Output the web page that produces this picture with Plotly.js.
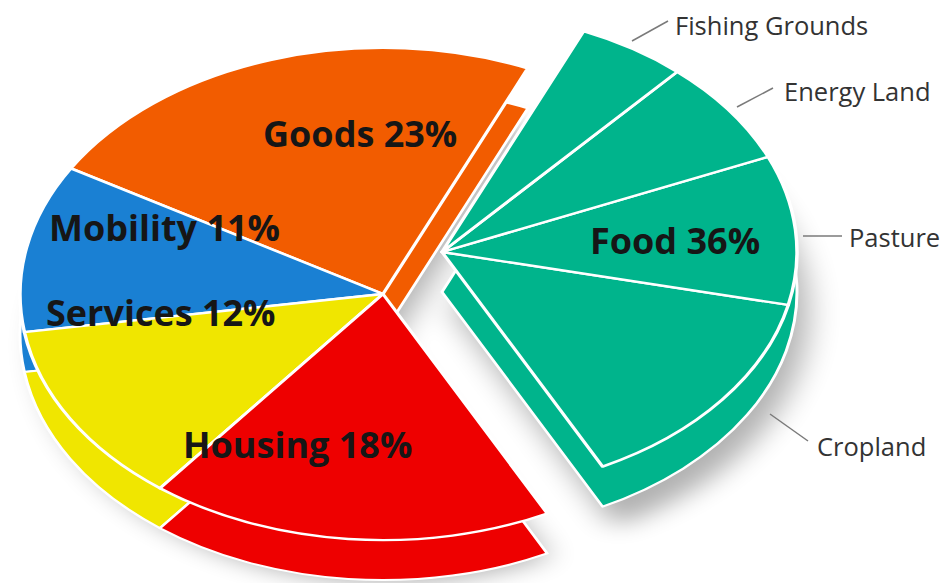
<!DOCTYPE html>
<html><head><meta charset="utf-8">
<script src="https://cdn.plot.ly/plotly-3.0.1.min.js"></script>
<style>
html,body{margin:0;padding:0;width:942px;height:583px;overflow:hidden;background:#fff;}
.layer{position:absolute;left:0;top:0;width:942px;}
#shadow,#pie{height:860px;transform:scaleY(0.67791);transform-origin:0 0;}
#shadow{filter:blur(16px);opacity:0.3;}
#labels{height:583px;}
</style></head><body>
<div id="shadow" class="layer"></div>
<div id="pie" class="layer"></div>
<div id="labels" class="layer"></div>
<script>
// ---- data ----
const categories = ['Goods', 'Mobility', 'Services', 'Housing', 'Food'];
const shares = [23, 11, 12, 18, 36];
const foodParts = ['Cropland', 'Pasture', 'Energy Land', 'Fishing Grounds'];
const foodShares = [14, 10, 7, 5];
const colors = ['#F25C00', '#1A80D3', '#F0E600', '#EE0000', '#00B48C'];

// ---- geometry (layout only) ----
const H = 860;                  // unsquashed pie canvas height
const depth = 59 / H;           // thickness of the pie side (paper units)
const mainDom = {x: [0.02123, 0.79193], y: [0.07360, 0.91779]};
const foodDom = {x: [0.09236, 0.84607], y: [0.15500, 0.98058]};
const foodTop = 66.5;           // angle (deg, counterclockwise from east) of the Food wedge's upper edge

const foodIdx = categories.indexOf('Food');
const total = shares.reduce((a, v) => a + v, 0);
const otherTotal = total - shares[foodIdx];
const foodColor = colors[foodIdx];

// Plotly (counterclockwise): slice 0 lies clockwise of the rotation line, the rest follow counterclockwise
function rotFor(firstValue) {
  let r = 90 - (foodTop + firstValue / total * 360);
  r = ((r % 360) + 540) % 360 - 180;
  return r;
}

function shiftDom(d, dx, dy) {
  return {x: [d.x[0] + dx, d.x[1] + dx], y: [d.y[0] + dy, d.y[1] + dy]};
}

function mainTrace(dom, fill, lineW) {
  return {
    type: 'pie', labels: categories, values: shares, sort: false,
    direction: 'counterclockwise', rotation: rotFor(shares[0]), domain: dom,
    textinfo: 'none', hoverinfo: 'skip', showlegend: false,
    marker: {
      colors: categories.map((c, i) => i === foodIdx ? 'rgba(0,0,0,0)' : fill(i)),
      line: {color: '#ffffff', width: categories.map((c, i) => i === foodIdx ? 0 : lineW)}
    }
  };
}
// split = true: Food drawn as its four parts; false: Food as one block (for the side)
function foodTrace(dom, fill, lineW, split) {
  const labs = ['rest'].concat(split ? foodParts : ['Food']);
  const vals = [otherTotal].concat(split ? foodShares : [shares[foodIdx]]);
  return {
    type: 'pie', labels: labs, values: vals, sort: false,
    direction: 'counterclockwise', rotation: rotFor(otherTotal), domain: dom,
    textinfo: 'none', hoverinfo: 'skip', showlegend: false,
    marker: {
      colors: labs.map((c, i) => i === 0 ? 'rgba(0,0,0,0)' : fill),
      line: {color: '#ffffff', width: labs.map((c, i) => i === 0 ? 0 : lineW)}
    }
  };
}

const pieLayout = {
  width: 942, height: H, margin: {l: 0, r: 0, t: 0, b: 0},
  paper_bgcolor: 'rgba(0,0,0,0)', plot_bgcolor: 'rgba(0,0,0,0)', showlegend: false
};
const cfg = {staticPlot: true, displayModeBar: false};

// soft shadow
Plotly.newPlot('shadow', [
  mainTrace(shiftDom(mainDom, 0.008, -depth - 0.035), () => '#000', 0),
  foodTrace(shiftDom(foodDom, 0.012, -depth - 0.035), '#000', 0, false)
], pieLayout, cfg);

// pie: sides first, then top faces
Plotly.newPlot('pie', [
  mainTrace(shiftDom(mainDom, 0, -depth), i => colors[i], 3),
  mainTrace(mainDom, i => colors[i], 3.5),
  foodTrace(shiftDom(foodDom, 0, -depth), foodColor, 3, false),
  foodTrace(foodDom, foodColor, 3.5, true)
], pieLayout, cfg);

// ---- text overlay ----
const catLabelPos = [[360, 133], [164, 227], [161, 312], [297, 444], [675, 240]];
const partLabelPos = [[815, 446], [847, 237], [782, 91], [673, 25]];
const leaders = [[770, 414, 808, 441], [803, 236, 842, 236], [737, 107, 773, 88], [632, 41, 668, 21]];

const annotations = categories.map((c, i) => ({
  x: catLabelPos[i][0], y: catLabelPos[i][1], xref: 'x', yref: 'y',
  text: '<b>' + c + ' ' + shares[i] + '%</b>', showarrow: false,
  font: {family: 'Open Sans, sans-serif', size: 36, color: '#161616'},
  xanchor: 'center', yanchor: 'middle'
})).concat(foodParts.map((p, i) => ({
  x: partLabelPos[i][0], y: partLabelPos[i][1], xref: 'x', yref: 'y',
  text: p, showarrow: false,
  font: {family: 'Open Sans, sans-serif', size: 25.5, color: '#333333'},
  xanchor: 'left', yanchor: 'middle'
})));
const shapes = leaders.map(l => ({
  type: 'line', xref: 'x', yref: 'y', x0: l[0], y0: l[1], x1: l[2], y1: l[3],
  line: {color: '#7a7a7a', width: 1.5}
}));

Plotly.newPlot('labels', [], {
  width: 942, height: 583, margin: {l: 0, r: 0, t: 0, b: 0},
  paper_bgcolor: 'rgba(0,0,0,0)', plot_bgcolor: 'rgba(0,0,0,0)',
  xaxis: {range: [0, 942], visible: false, fixedrange: true},
  yaxis: {range: [583, 0], visible: false, fixedrange: true},
  annotations: annotations, shapes: shapes, showlegend: false
}, cfg);
</script>
</body></html>
